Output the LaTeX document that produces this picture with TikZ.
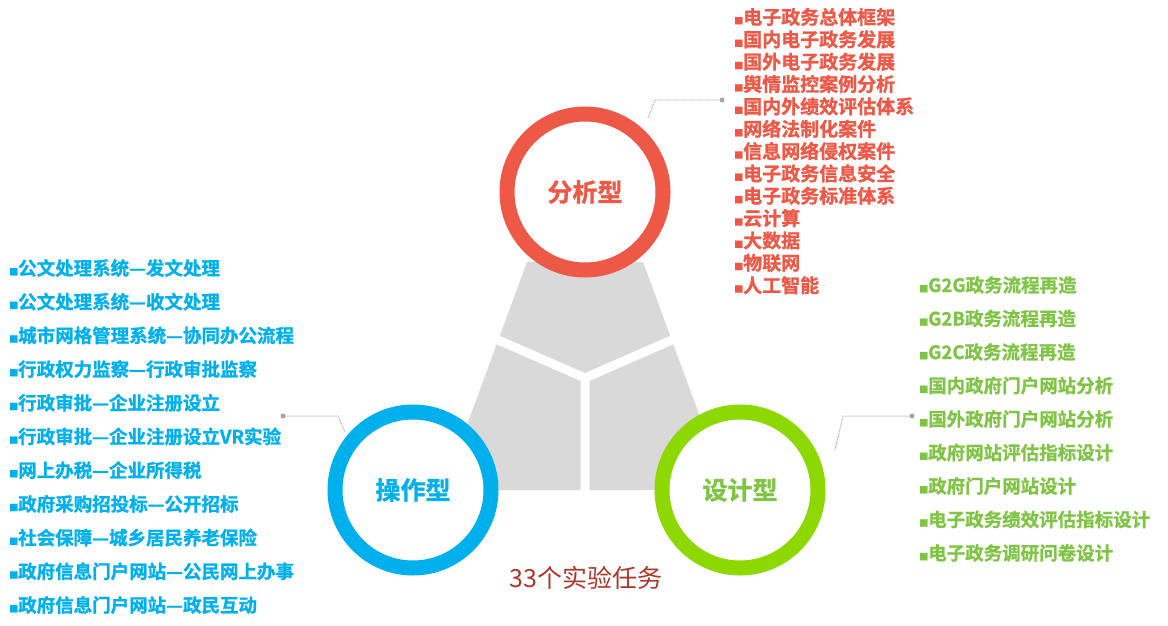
\documentclass[tikz,border=0pt]{standalone}
\usepackage{fontspec}
\setmainfont{Noto Sans CJK SC}[BoldFont={Noto Sans CJK SC Bold},BoldFeatures={FakeBold=1.2}]
\definecolor{cred}{RGB}{238,88,70}
\definecolor{cblue}{RGB}{0,176,236}
\definecolor{cgreen}{RGB}{140,216,0}
\definecolor{tgreen}{RGB}{128,196,70}
\definecolor{cgrey}{RGB}{217,217,217}
\definecolor{cbrown}{RGB}{170,55,40}
\newcommand{\bx}{{\fontsize{9}{9}\selectfont■}}
\begin{document}
\begin{tikzpicture}[x=1pt,y=-1pt,
 ring/.style={circle,line width=15pt,fill=white,minimum size=156pt,inner sep=0pt,font=\bfseries\fontsize{25}{25}\selectfont},
 item/.style={anchor=west,inner sep=0pt,font=\bfseries\fontsize{18.5}{18.5}\selectfont},
 ritem/.style={item,font=\bfseries\fontsize{19}{19}\selectfont},
 lead/.style={draw=gray!70,densely dotted,line width=1pt},
 dotend/.style={circle,fill=gray!70,inner sep=0pt,minimum size=5pt}]
\useasboundingbox (0,0) rectangle (1168,626);
\fill[cgrey] (527,262) -- (643,262) -- (727,490) -- (443,490) -- cycle;
\coordinate (J) at (585,378);
\coordinate (AL) at (480,332);
\coordinate (AR) at (690,332);
\coordinate (AB) at (585,495);
\draw[white,line width=9pt] (AL) -- (J) -- (AR) (J) -- (AB);
\node[ring,draw=cred,text=cred] (A) at (585,192) {分析型};
\node[ring,draw=cblue,text=cblue] (B) at (413,490) {操作型};
\node[ring,draw=cgreen,text=tgreen] (C) at (740,490) {设计型};
\node[text=cbrown,font=\fontsize{25}{25}\selectfont] (T) at (586,578) {33个实验任务};
% leaders
\node[dotend] (da) at (722,100) {};
\coordinate (ka) at (655,100);
\draw[lead] (648,118) -- (ka) -- (da);
\node[dotend] (db) at (283,416) {};
\coordinate (kb) at (338,416);
\draw[lead] (db) -- (kb) -- (345,432);
\node[dotend] (dc) at (912,416) {};
\coordinate (kc) at (843,416);
\draw[lead] (dc) -- (kc) -- (835,450);
% red list
\foreach \t [count=\i from 0] in {电子政务总体框架,国内电子政务发展,国外电子政务发展,舆情监控案例分析,国内外绩效评估体系,网络法制化案件,信息网络侵权案件,电子政务信息安全,电子政务标准体系,云计算,大数据,物联网,人工智能}
 \node[ritem,text=cred] (r\i) at (734,17+22.35*\i) {\bx\t};
% blue list
\foreach \t [count=\i from 0] in {公文处理系统—发文处理,公文处理系统—收文处理,城市网格管理系统—协同办公流程,行政权力监察—行政审批监察,行政审批—企业注册设立,行政审批—企业注册设立VR实验,网上办税—企业所得税,政府采购招投标—公开招标,社会保障—城乡居民养老保险,政府信息门户网站—公民网上办事,政府信息门户网站—政民互动}
 \node[item,text=cblue] (b\i) at (9,268+33.7*\i) {\bx\t};
% green list
\foreach \t [count=\i from 0] in {G2G政务流程再造,G2B政务流程再造,G2C政务流程再造,国内政府门户网站分析,国外政府门户网站分析,政府网站评估指标设计,政府门户网站设计,电子政务绩效评估指标设计,电子政务调研问卷设计}
 \node[item,text=tgreen] (g\i) at (919,285+33.5*\i) {\bx\t};
\end{tikzpicture}
\end{document}
